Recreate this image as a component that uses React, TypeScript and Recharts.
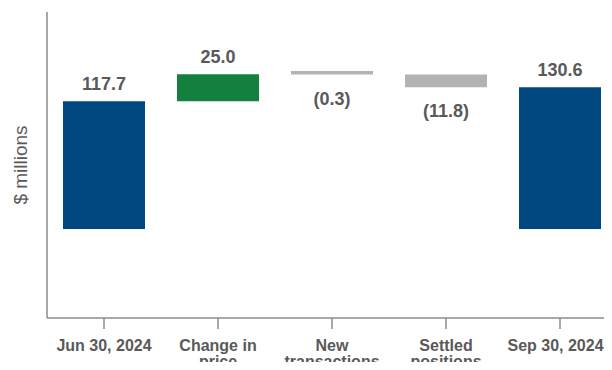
import React from 'react';
import { BarChart, Bar, XAxis, YAxis, Cell, LabelList } from 'recharts';

// waterfall steps, $ millions
const categories = [
    ['Jun 30, 2024'],
    ['Change in', 'price'],
    ['New', 'transactions'],
    ['Settled', 'positions'],
    ['Sep 30, 2024'],
];
const values = [117.7, 25.0, -0.3, -11.8, 130.6];
const kinds = ['total', 'delta', 'delta', 'delta', 'total'];
const valueLabels = ['117.7', '25.0', '(0.3)', '(11.8)', '130.6'];

const BLUE = '#00477F';
const GREEN = '#13803F';
const GRAY = '#B3B3B3';
const TEXT = '#595959';
const AXIS = '#8C8C8C';
const FONT = "'Liberation Sans', Arial, sans-serif";

// build [low, high] ranges from running total
let running = 0;
const data = categories.map((lines, i) => {
    let low: number, high: number;
    if (kinds[i] === 'total') {
        low = 0;
        high = values[i];
        running = values[i];
    } else {
        const next = running + values[i];
        low = Math.min(running, next);
        high = Math.max(running, next);
        running = next;
    }
    return { name: lines.join(' '), lines, range: [low, high], value: values[i], kind: kinds[i] };
});

const barColor = (i: number) => {
    if (kinds[i] === 'total') return BLUE;
    return values[i] >= 0 ? GREEN : GRAY;
};

const CategoryTick = (props: any) => {
    const { x, y, index } = props;
    const lines = categories[index] || [];
    // keep last label inside the right edge
    const cx = Math.min(x, 555.5);
    return (
        <text x={cx} y={y} textAnchor="middle" fill={TEXT} fontSize={16} fontWeight="bold" fontFamily={FONT}>
            {lines.map((l, k) => (
                <tspan key={k} x={cx} dy={k === 0 ? 22 : 16}>{l}</tspan>
            ))}
        </text>
    );
};

const ValueLabel = (props: any) => {
    const { x, y, width, height, index } = props;
    const top = Math.min(y, y + height);
    const bottom = Math.max(y, y + height);
    const neg = values[index] < 0;
    return (
        <text x={x + width / 2} y={neg ? bottom + 30 : top - 11.5} textAnchor="middle" fill={TEXT}
            fontSize={18} fontWeight="bold" fontFamily={FONT}>
            {valueLabels[index]}
        </text>
    );
};

export default function App() {
    return (
        <div style={{ margin: -8, width: 612, height: 370, overflow: 'hidden', background: '#fff' }}>
            <BarChart width={620} height={370} data={data}
                margin={{ top: 12, right: 3, bottom: 0, left: 0 }} barSize={82}>
                <XAxis dataKey="name" height={52} interval={0} tickSize={11} tickMargin={0}
                    stroke={AXIS} strokeWidth={1.5} tickLine={{ stroke: AXIS, strokeWidth: 1.5 }}
                    tick={<CategoryTick />} />
                <YAxis width={47} domain={[-82, 200]} tick={false} tickLine={false}
                    stroke={AXIS} strokeWidth={1.5}
                    label={{
                        value: '$ millions', angle: -90, position: 'center', dx: -3,
                        style: { fill: TEXT, fontSize: 19, fontFamily: FONT },
                    }} />
                <Bar dataKey="range" minPointSize={3.5} isAnimationActive={false}>
                    {data.map((d, i) => (
                        <Cell key={`c-${i}`} fill={barColor(i)} />
                    ))}
                    <LabelList dataKey="value" content={<ValueLabel />} />
                </Bar>
            </BarChart>
        </div>
    );
}
